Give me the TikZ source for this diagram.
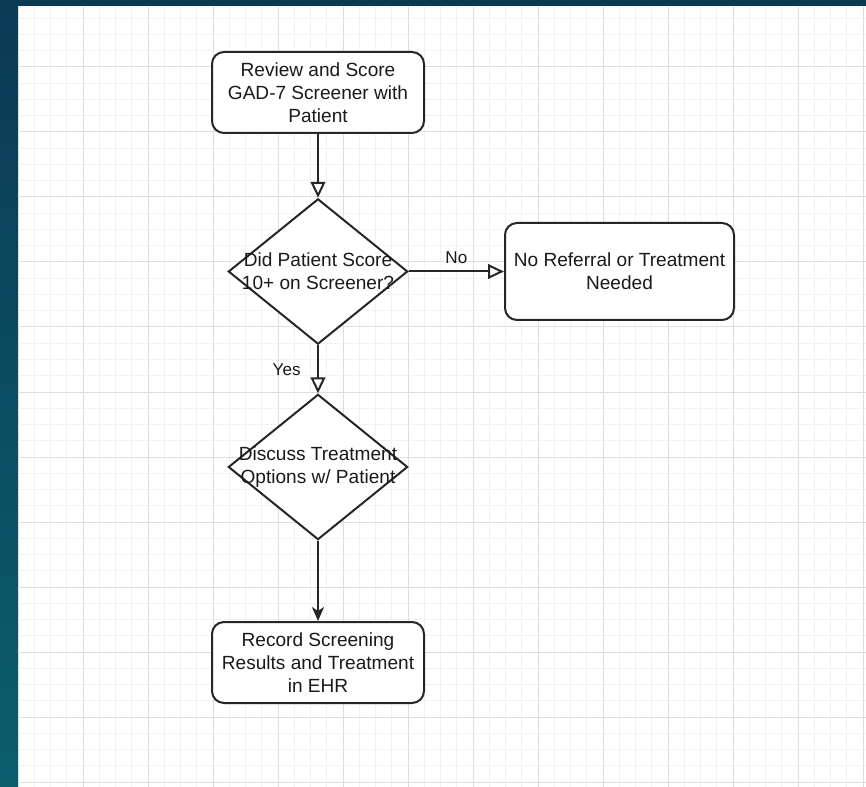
\documentclass[tikz,border=0pt]{standalone}
\usepackage{fontspec}
\setmainfont{Liberation Sans}
\usepackage{tikz}
\usetikzlibrary{arrows.meta,positioning,shapes.geometric}
\usepackage{xcolor}
\definecolor{ftop}{HTML}{0B3A55}
\definecolor{fbottom}{HTML}{0A5E6C}
\definecolor{fink}{HTML}{1A1A1A}
\definecolor{fline}{HTML}{262626}
\definecolor{fgridfine}{HTML}{F2F2F2}
\definecolor{fgridmajor}{HTML}{DEDEDE}
\tikzset{
  stepbox/.style  = {draw=fline, line width=1.5pt, rectangle, rounded corners=9pt,
                     fill=white, text=fink, align=center,
                     minimum width=159pt, minimum height=60.75pt, inner sep=0pt},
  decision/.style = {draw=fline, line width=1.5pt, diamond, fill=white,
                     inner sep=0pt, minimum width=134.5pt, minimum height=109pt},
  dtext/.style    = {text=fink, align=center},
  openflow/.style = {draw=fline, line width=1.5pt,
                     -{Triangle[open,length=12pt,width=11pt]}},
  solidflow/.style= {draw=fline, line width=1.5pt,
                     -{Stealth[length=10.5pt,width=9pt,inset=3pt]}},
  edgelabel/.style= {text=fink, font=\fontsize{12.8}{15}\selectfont},
}

\begin{document}
\begin{tikzpicture}[x=0.75pt,y=-0.75pt,font=\fontsize{14.3}{17.25}\selectfont]
\useasboundingbox (0,0) rectangle (866,787);
\shade[top color=ftop,bottom color=fbottom] (0,0) rectangle (866,787);
\fill[white] (18,6) rectangle (866,787);
% canvas grid
\begin{scope}
\clip (18,6) rectangle (866,787);
\foreach \gx in {0,...,52}
  \draw[fgridfine,line width=0.75pt] ({18+16.25*\gx},6) -- ++(0,781);
\foreach \gy in {0,...,48}
  \draw[fgridfine,line width=0.75pt] (18,{2+16.25*\gy}) -- ++(848,0);
\foreach \gx in {0,...,13}
  \draw[fgridmajor,line width=0.75pt] ({18+65*\gx},6) -- ++(0,781);
\foreach \gy in {0,...,12}
  \draw[fgridmajor,line width=0.75pt] (18,{2+65*\gy}) -- ++(848,0);
\end{scope}

\node[stepbox] (review) at (318,92.5)
  {Review and Score\\ GAD-7 Screener with\\ Patient};
\node[decision] (scorecheck) at (318,271.5) {};
\node[dtext] at (scorecheck) {Did Patient Score\\ 10+ on Screener?};
\node[stepbox,minimum width=171.75pt,minimum height=72.75pt] (noref) at (619.5,271.5)
  {No Referral or Treatment\\ Needed};
\node[decision] (discuss) at (318,467) {};
\node[dtext] at (discuss) {Discuss Treatment\\ Options w/ Patient};
\node[stepbox] (record) at (318,662.5)
  {Record Screening\\ Results and Treatment\\ in EHR};

\draw[openflow] (review) -- (scorecheck);
\draw[openflow] (scorecheck) -- node[edgelabel,above,yshift=2pt] {No} (noref);
\draw[openflow] (scorecheck) -- node[edgelabel,left,xshift=-9pt] {Yes} (discuss);
\draw[solidflow] (discuss) -- (record);
\end{tikzpicture}
\end{document}
